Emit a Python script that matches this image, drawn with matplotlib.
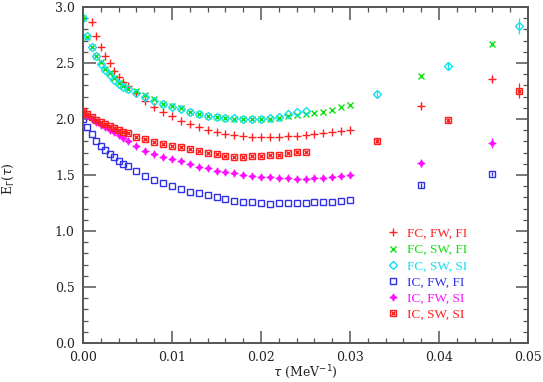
import matplotlib
matplotlib.use("Agg")
import matplotlib.pyplot as plt
from matplotlib.lines import Line2D
from matplotlib.ticker import MultipleLocator, FormatStrFormatter

# ---------------- data ----------------
x_fine = [0.0, 0.0005, 0.001, 0.0015, 0.002, 0.0025, 0.003, 0.0035, 0.004, 0.0045, 0.005]
x_mid30 = [0.006, 0.007, 0.008, 0.009, 0.010, 0.011, 0.012, 0.013, 0.014, 0.015,
           0.016, 0.017, 0.018, 0.019, 0.020, 0.021, 0.022, 0.023, 0.024, 0.025,
           0.026, 0.027, 0.028, 0.029, 0.030]
x_mid25 = x_mid30[:20]

# FC, FW, FI (red plus) - starts at 0.001
fcfwfi_x = x_fine[2:] + x_mid30 + [0.038, 0.046]
fcfwfi_y = [2.87, 2.745, 2.645, 2.565, 2.50, 2.43, 2.378, 2.333, 2.295,
            2.23, 2.16, 2.105, 2.06, 2.025, 1.982, 1.955, 1.926, 1.902, 1.887,
            1.869, 1.857, 1.846, 1.84, 1.838, 1.836, 1.838, 1.845, 1.85, 1.857,
            1.865, 1.872, 1.88, 1.893, 1.905,
            2.119, 2.357]

# FC, SW, FI (green)
fcswfi_x = x_fine + x_mid30 + [0.038, 0.046]
fcswfi_y = [2.90, 2.735, 2.64, 2.565, 2.505, 2.45, 2.41, 2.365, 2.325, 2.295, 2.272,
            2.25, 2.215, 2.175, 2.135, 2.115, 2.095, 2.065, 2.045, 2.03, 2.018,
            2.008, 2.003, 2.0, 1.998, 1.998, 2.0, 2.006, 2.025, 2.035, 2.042,
            2.056, 2.065, 2.08, 2.108, 2.125,
            2.384, 2.67]

# FC, SW, SI (cyan)
fcswsi_x = x_fine + x_mid25 + [0.033, 0.041, 0.049]
fcswsi_y = [2.90, 2.745, 2.645, 2.56, 2.495, 2.44, 2.395, 2.35, 2.315, 2.29, 2.265,
            2.235, 2.20, 2.165, 2.13, 2.11, 2.09, 2.065, 2.045, 2.03, 2.02,
            2.01, 2.005, 2.0, 2.0, 2.0, 2.005, 2.015, 2.045, 2.065, 2.07,
            2.223, 2.473, 2.833]

# IC, FW, FI (blue squares)
icfwfi_x = x_fine + x_mid30 + [0.038, 0.046]
icfwfi_y = [2.0, 1.926, 1.863, 1.806, 1.759, 1.723, 1.688, 1.658, 1.628, 1.598, 1.580,
            1.536, 1.491, 1.455, 1.426, 1.40, 1.375, 1.352, 1.336, 1.321, 1.305,
            1.288, 1.272, 1.262, 1.256, 1.25, 1.245, 1.247, 1.247, 1.247, 1.247,
            1.256, 1.26, 1.262, 1.268, 1.277,
            1.408, 1.509]

# IC, FW, SI (magenta)
icfwsi_x = x_fine + x_mid30 + [0.038, 0.046]
icfwsi_y = [2.06, 2.03, 2.0, 1.97, 1.945, 1.925, 1.905, 1.885, 1.86, 1.83, 1.80,
            1.762, 1.717, 1.688, 1.663, 1.645, 1.625, 1.598, 1.574, 1.558, 1.54,
            1.525, 1.515, 1.50, 1.488, 1.485, 1.479, 1.476, 1.47, 1.465, 1.468,
            1.474, 1.476, 1.485, 1.494, 1.50,
            1.604, 1.783]

# IC, SW, SI (red boxed x)
icswsi_x = x_fine + x_mid25 + [0.033, 0.041, 0.049]
icswsi_y = [2.071, 2.045, 2.015, 1.991, 1.970, 1.952, 1.938, 1.917, 1.902, 1.887, 1.872,
            1.842, 1.819, 1.795, 1.777, 1.762, 1.75, 1.735, 1.717, 1.692, 1.685,
            1.672, 1.665, 1.665, 1.668, 1.670, 1.677, 1.68, 1.694, 1.703, 1.708,
            1.806, 1.988, 2.253]

# error bars on the sparse (large tau) points
fcfwfi_err_sparse = [0.03, 0.03]
fcswfi_err_sparse = [0.02, 0.02]
fcswsi_err_sparse = [0.03, 0.035, 0.07]
icfwfi_err_sparse = [0.02, 0.02]
icfwsi_err_sparse = [0.03, 0.045]
icswsi_err_sparse = [0.02, 0.02, 0.065]

labels = ["FC, FW, FI", "FC, SW, FI", "FC, SW, SI", "IC, FW, FI", "IC, FW, SI", "IC, SW, SI"]

RED = "#ff2020"
GREEN = "#10e010"
CYAN = "#10e0f0"
BLUE = "#3030e8"
MAG = "#ff10ff"

plt.rcParams["font.family"] = ["DejaVu Serif"]

fig = plt.figure(figsize=(5.43, 3.82), dpi=100)
ax = fig.add_axes([0.1529, 0.1021, 0.8195, 0.8796])

MS = {"plus": 6.0, "x": 4.2, "D": 3.6, "s": 4.6, "star": 5.5, "bx": 4.2}


def draw(xs, ys, errs, color, marker, ms, mfc, mew=1.0, overlay=None):
    n = len(errs)
    yerr = [0.0] * (len(xs) - n) + errs
    ax.errorbar(xs, ys, yerr=yerr, fmt="none", ecolor=color, elinewidth=0.9, capsize=0)
    ax.plot(xs, ys, linestyle="none", marker=marker, ms=ms, mfc=mfc, mec=color,
            mew=mew, color=color)
    if overlay is not None:
        ax.plot(xs, ys, linestyle="none", marker=overlay, ms=ms * 0.85, mec=color,
                mew=mew, color=color)


draw(fcfwfi_x, fcfwfi_y, fcfwfi_err_sparse, RED, "+", MS["plus"], "none", 1.0)
draw(fcswfi_x, fcswfi_y, fcswfi_err_sparse, GREEN, "x", MS["x"], "none", 1.0)
draw(fcswsi_x, fcswsi_y, fcswsi_err_sparse, CYAN, "D", MS["D"], "none", 1.0)
draw(icfwfi_x, icfwfi_y, icfwfi_err_sparse, BLUE, "s", MS["s"], "none", 1.0)
draw(icfwsi_x, icfwsi_y, icfwsi_err_sparse, MAG, (4, 1, 0), MS["star"], MAG, 0.5)
draw(icswsi_x, icswsi_y, icswsi_err_sparse, RED, "s", MS["bx"], "none", 1.0, overlay="x")

ax.set_xlim(0.0, 0.05)
ax.set_ylim(0.0, 3.0)
ax.xaxis.set_major_locator(MultipleLocator(0.01))
ax.xaxis.set_minor_locator(MultipleLocator(0.002))
ax.yaxis.set_major_locator(MultipleLocator(0.5))
ax.yaxis.set_minor_locator(MultipleLocator(0.1))
ax.xaxis.set_major_formatter(FormatStrFormatter("%.2f"))
ax.yaxis.set_major_formatter(FormatStrFormatter("%.1f"))

spine_c = "#555555"
for s in ax.spines.values():
    s.set_color(spine_c)
    s.set_linewidth(1.4)
ax.tick_params(which="both", direction="in", top=True, right=True, colors=spine_c,
               labelcolor="#222222", labelsize=9)
ax.tick_params(which="major", length=9, width=1.1, pad=6)
ax.tick_params(which="minor", length=3.5, width=0.9)

ax.set_xlabel(r"$\tau$ (MeV$^{-1}$)", fontsize=9, color="#222222")
ax.xaxis.label.set_va("center")
ax.xaxis.set_label_coords(0.5, -0.087)
ax.set_ylabel(r"E$_\Gamma$($\tau$)", fontsize=9, color="#222222")
ax.yaxis.label.set_va("center")
ax.yaxis.set_label_coords(-0.168, 0.49)

# legend
handles = [
    Line2D([], [], linestyle="none", marker="+", ms=MS["plus"], mec=RED, mew=1.0),
    Line2D([], [], linestyle="none", marker="x", ms=MS["x"], mec=GREEN, mew=1.0),
    Line2D([], [], linestyle="none", marker="D", ms=MS["D"], mfc="none", mec=CYAN, mew=1.0),
    Line2D([], [], linestyle="none", marker="s", ms=MS["s"], mfc="none", mec=BLUE, mew=1.0),
    Line2D([], [], linestyle="none", marker=(4, 1, 0), ms=MS["star"], mfc=MAG, mec=MAG, mew=0.5),
    (Line2D([], [], linestyle="none", marker="s", ms=MS["bx"], mfc="none", mec=RED, mew=1.0),
     Line2D([], [], linestyle="none", marker="x", ms=MS["bx"] * 0.85, mec=RED, mew=1.0)),
]
leg = ax.legend(handles, labels, loc="lower left", bbox_to_anchor=(0.669, 0.05),
                frameon=False, handlelength=1.0, handletextpad=0.6,
                labelspacing=0.3, borderaxespad=0.0,
                prop={"family": ["Liberation Serif"], "size": 9.5})
for txt, c in zip(leg.get_texts(), [RED, GREEN, CYAN, BLUE, MAG, RED]):
    txt.set_color(c)

fig.savefig("out.png", dpi=100)
